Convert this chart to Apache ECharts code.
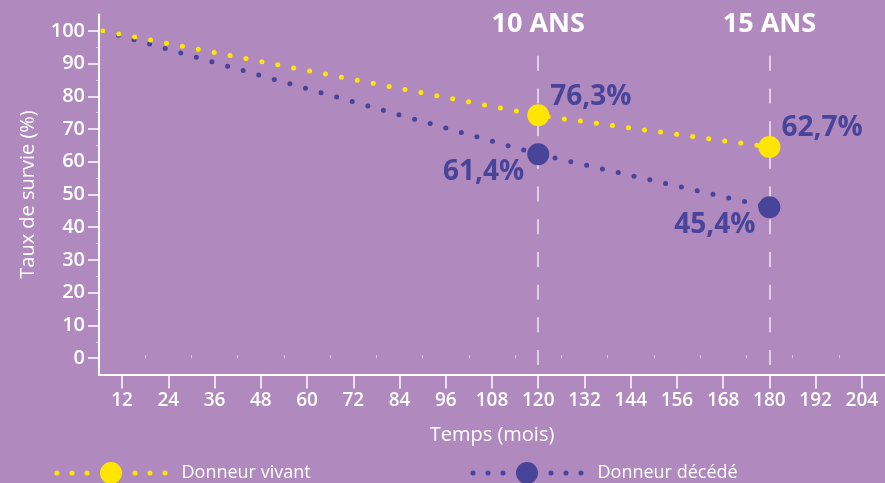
<!DOCTYPE html>
<html>
<head>
<meta charset="utf-8">
<script src="https://cdn.jsdelivr.net/npm/echarts@6/dist/echarts.min.js"></script>
<style>
html,body{margin:0;padding:0;background:#b08abe;}
#c{width:885px;height:483px;}
</style>
</head>
<body>
<div id="c"></div>
<script>
// ---- data ----
const seriesNames = ['Donneur vivant', 'Donneur décédé'];
const months = [7, 120, 180];
const vivantValues = [100, 74.2, 64.5];
const decedeValues = [100, 62.3, 46.1];
const vivantLabels = ['', '76,3%', '62,7%'];
const decedeLabels = ['', '61,4%', '45,4%'];
const xTickLabels = [12, 24, 36, 48, 60, 72, 84, 96, 108, 120, 132, 144, 156, 168, 180, 192, 204];
const xMinorTicks = [18, 30, 42, 54, 66, 78, 90, 102, 114, 126, 138, 150, 162, 174, 186, 198];
const yTickLabels = [0, 10, 20, 30, 40, 50, 60, 70, 80, 90, 100];
const yMinorTicks = [5, 15, 25, 35, 45, 55, 65, 75, 85, 95];
const milestoneMonths = [120, 180];
const milestoneLabels = ['10 ANS', '15 ANS'];

// ---- style ----
const YELLOW = '#ffe600';
const BLUE = '#47449a';
const WHITE = '#ffffff';
const FONT = 'Open Sans';

const legendIcon = 'path://M0,11a2.5,2.5 0 1,0 5,0a2.5,2.5 0 1,0 -5,0Z M15,11a2.5,2.5 0 1,0 5,0a2.5,2.5 0 1,0 -5,0Z M30,11a2.5,2.5 0 1,0 5,0a2.5,2.5 0 1,0 -5,0Z M45.5,11a11,11 0 1,0 22,0a11,11 0 1,0 -22,0Z M78,11a2.5,2.5 0 1,0 5,0a2.5,2.5 0 1,0 -5,0Z M93,11a2.5,2.5 0 1,0 5,0a2.5,2.5 0 1,0 -5,0Z M108,11a2.5,2.5 0 1,0 5,0a2.5,2.5 0 1,0 -5,0Z';

function buildData(values, labels, placements) {
  return months.map((m, i) => {
    const item = { value: [m, values[i]] };
    if (i === 0) {
      item.symbol = 'none';
    } else {
      const p = placements[i];
      item.label = {
        show: true,
        formatter: labels[i],
        position: p.position,
        distance: p.distance,
        offset: p.offset,
        color: BLUE,
        fontFamily: FONT,
        fontWeight: 'bold',
        fontSize: 28
      };
    }
    return item;
  });
}

const vivantPlacement = [null,
  { position: 'right', distance: 1, offset: [0, -18] },
  { position: 'right', distance: 1, offset: [0, -19] }];
const decedePlacement = [null,
  { position: 'left', distance: 3, offset: [0, 17.5] },
  { position: 'left', distance: 3, offset: [0, 18] }];

const chart = echarts.init(document.getElementById('c'), null, { renderer: 'canvas' });

const legendCommon = {
  top: 462, padding: 0, icon: legendIcon,
  itemWidth: 113, itemHeight: 22, itemStyle: { borderWidth: 0 },
  textStyle: { color: WHITE, fontSize: 18, fontFamily: FONT, padding: [0, 0, 1, 9] }
};

const option = {
  backgroundColor: '#b08abe',
  animation: false,
  textStyle: { fontFamily: FONT },
  grid: { left: 99, top: 14.5, width: 787, height: 360, containLabel: false },
  legend: [
    Object.assign({ data: [seriesNames[0]], left: 54.5 }, legendCommon),
    Object.assign({ data: [seriesNames[1]], left: 470.5 }, legendCommon)
  ],
  xAxis: [
    {
      type: 'value', min: 6, max: 210,
      name: 'Temps (mois)', nameLocation: 'middle', nameGap: 51,
      nameTextStyle: { color: WHITE, fontSize: 20, fontFamily: FONT },
      axisLine: { show: true, onZero: false, lineStyle: { color: WHITE, width: 2 } },
      axisTick: { show: true, customValues: xTickLabels, length: 14, lineStyle: { color: WHITE, width: 1.5 } },
      axisLabel: { show: true, customValues: xTickLabels, margin: 17, color: WHITE, fontSize: 19, fontWeight: 600, fontFamily: FONT },
      splitLine: { show: false }
    },
    {
      type: 'value', min: 6, max: 210, position: 'bottom',
      axisLine: { show: false },
      axisTick: { show: true, inside: true, customValues: xMinorTicks, length: 3, lineStyle: { color: 'rgba(255,255,255,0.55)', width: 1 } },
      axisLabel: { show: false },
      splitLine: { show: false }
    }
  ],
  yAxis: [
    {
      type: 'value', min: -5, max: 105,
      name: 'Taux de survie (%)', nameLocation: 'middle', nameGap: 61,
      nameTextStyle: { color: WHITE, fontSize: 20, fontFamily: FONT },
      axisLine: { show: true, onZero: false, lineStyle: { color: WHITE, width: 2 } },
      axisTick: { show: true, customValues: yTickLabels, length: 11, lineStyle: { color: WHITE, width: 1.5 } },
      axisLabel: { show: true, customValues: yTickLabels, margin: 14, color: WHITE, fontSize: 20, fontWeight: 600, fontFamily: FONT },
      splitLine: { show: false }
    },
    {
      type: 'value', min: -5, max: 105, position: 'left',
      axisLine: { show: false },
      axisTick: { show: true, customValues: yMinorTicks, length: 3, lineStyle: { color: 'rgba(255,255,255,0.55)', width: 1 } },
      axisLabel: { show: false },
      splitLine: { show: false }
    }
  ],
  series: [
    {
      name: seriesNames[1], type: 'line', z: 3,
      data: buildData(decedeValues, decedeLabels, decedePlacement),
      symbol: 'circle', symbolSize: 22,
      itemStyle: { color: BLUE, borderWidth: 0 },
      lineStyle: { color: BLUE, width: 5, type: [0, 16.2], cap: 'round' },
      markLine: {
        silent: true, symbol: 'none', z: 1,
        lineStyle: { color: 'rgba(255,255,255,0.8)', width: 1.5, type: [15, 17.7] },
        label: {
          show: true, position: 'start', distance: 18,
          color: WHITE, fontSize: 27, fontWeight: 'bold', fontFamily: FONT,
          formatter: (p) => p.name
        },
        data: milestoneMonths.map((m, i) => [
          { name: milestoneLabels[i], coord: [m, 92.4] },
          { coord: [m, -5] }
        ])
      }
    },
    {
      name: seriesNames[0], type: 'line', z: 4,
      data: buildData(vivantValues, vivantLabels, vivantPlacement),
      symbol: 'circle', symbolSize: 22,
      itemStyle: { color: YELLOW, borderWidth: 0 },
      lineStyle: { color: YELLOW, width: 5, type: [0, 16.2], cap: 'round' }
    }
  ]
};
chart.setOption(option);
</script>
</body>
</html>
